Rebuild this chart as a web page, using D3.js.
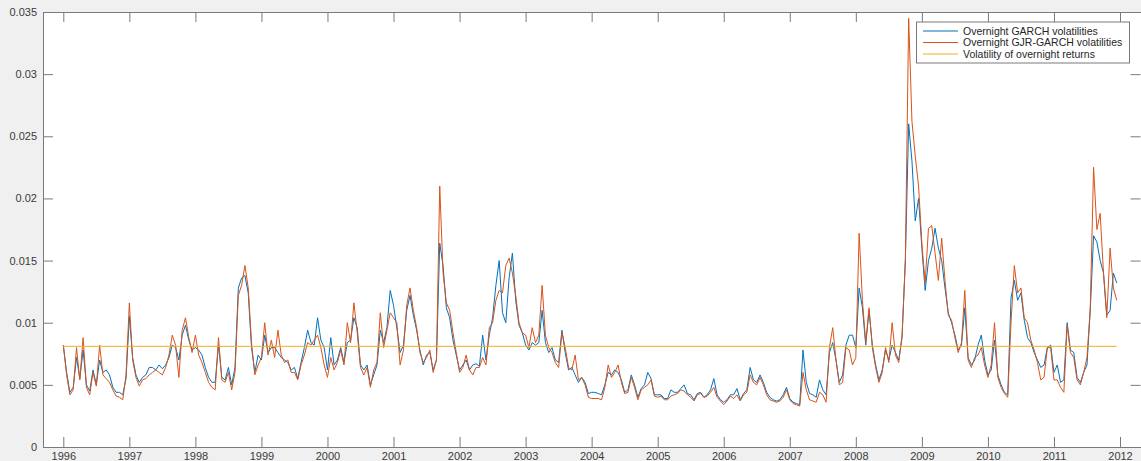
<!DOCTYPE html>
<html>
<head>
<meta charset="utf-8">
<script src="https://cdn.jsdelivr.net/npm/d3@7"></script>
<style>
  body { margin: 0; background: #f0f0f0; }
  svg { display: block; font-family: "Liberation Sans", Arial, sans-serif; }
</style>
</head>
<body>
<script>
// values are in units of 1e-4, sampled every 0.05 year from 1996.0
const unit = 1e-4
const startYear = 1996
const step = 0.05

const garch = [
  82, 60, 44, 48, 72, 55, 78, 50, 45, 62,
  50, 70, 60, 62, 58, 48, 44, 44, 42, 55,
  105, 72, 58, 52, 56, 58, 64, 64, 62, 66,
  63, 66, 72, 82, 80, 70, 90, 98, 86, 78,
  80, 78, 74, 64, 56, 52, 52, 82, 56, 54,
  64, 50, 64, 128, 136, 138, 124, 80, 60, 74,
  70, 90, 76, 80, 80, 76, 72, 70, 68, 62,
  64, 55, 68, 80, 94, 84, 82, 104, 86, 80,
  62, 88, 66, 70, 80, 68, 84, 86, 104, 96,
  66, 62, 66, 50, 58, 66, 94, 84, 96, 126,
  114, 96, 76, 82, 110, 122, 106, 94, 78, 66,
  74, 76, 62, 70, 164, 146, 112, 104, 86, 74,
  62, 66, 70, 62, 66, 67, 65, 90, 70, 90,
  104, 130, 150, 108, 100, 136, 156, 118, 98, 92,
  82, 78, 84, 82, 84, 110, 84, 76, 80, 70,
  68, 94, 76, 62, 64, 58, 52, 56, 52, 43,
  44, 44, 43, 42, 50, 60, 58, 62, 60, 54,
  44, 46, 58, 50, 40, 47, 50, 60, 55, 42,
  42, 42, 39, 39, 46, 44, 44, 47, 50, 43,
  42, 38, 43, 44, 40, 42, 46, 55, 42, 38,
  36, 38, 42, 42, 47, 38, 43, 46, 64, 54,
  52, 58, 52, 44, 40, 38, 37, 38, 42, 48,
  39, 36, 35, 34, 78, 52, 43, 42, 40, 54,
  46, 42, 76, 84, 70, 52, 58, 82, 90, 90,
  80, 128, 112, 82, 110, 82, 66, 54, 62, 78,
  70, 82, 76, 70, 88, 150, 260, 230, 182, 200,
  160, 126, 150, 160, 176, 160, 150, 128, 108, 100,
  90, 78, 82, 112, 72, 66, 70, 82, 90, 70,
  58, 62, 86, 58, 50, 44, 42, 120, 134, 118,
  124, 102, 88, 84, 76, 70, 64, 66, 80, 82,
  60, 66, 52, 54, 100, 78, 76, 56, 52, 60,
  66, 110, 170, 165, 150, 140, 106, 110, 140, 132
]

const gjr = [
  82, 58, 42, 46, 80, 54, 88, 48, 42, 60,
  49, 82, 58, 55, 52, 46, 41, 40, 38, 58,
  116, 70, 56, 49, 54, 55, 58, 60, 62, 60,
  58, 64, 74, 90, 82, 56, 94, 104, 88, 76,
  90, 74, 68, 60, 52, 48, 46, 88, 54, 52,
  60, 46, 60, 122, 130, 146, 128, 84, 58, 66,
  72, 100, 74, 86, 72, 94, 74, 68, 70, 60,
  60, 54, 66, 74, 84, 82, 86, 90, 80, 66,
  56, 72, 62, 68, 78, 66, 100, 84, 116, 92,
  64, 58, 64, 48, 62, 68, 108, 80, 94, 108,
  104, 100, 66, 78, 114, 128, 110, 96, 76, 68,
  72, 78, 60, 70, 210, 140, 116, 110, 92, 76,
  60, 64, 74, 62, 58, 64, 64, 72, 66, 96,
  100, 118, 126, 124, 146, 152, 140, 122, 100, 92,
  90, 80, 96, 84, 90, 130, 90, 80, 76, 68,
  64, 92, 80, 64, 62, 74, 54, 56, 50, 40,
  39, 39, 39, 38, 48, 66, 56, 60, 66, 52,
  43, 44, 56, 48, 38, 46, 48, 50, 54, 41,
  40, 41, 38, 38, 41, 42, 43, 46, 45, 42,
  40, 37, 42, 43, 40, 41, 44, 48, 40, 37,
  34, 37, 41, 39, 42, 37, 42, 44, 58, 52,
  50, 56, 50, 42, 38, 37, 36, 37, 40, 46,
  38, 35, 34, 33, 60, 46, 38, 37, 36, 44,
  42, 36, 80, 96, 70, 50, 52, 80, 78, 66,
  72, 172, 118, 84, 112, 80, 64, 52, 60, 80,
  68, 100, 74, 68, 90, 150, 345, 262, 234, 210,
  164, 132, 176, 178, 156, 134, 168, 134, 106, 102,
  88, 76, 84, 126, 70, 64, 72, 74, 80, 66,
  56, 66, 100, 56, 48, 43, 40, 100, 146, 124,
  128, 104, 100, 86, 78, 68, 54, 56, 80, 80,
  54, 54, 48, 44, 98, 76, 72, 54, 50, 60,
  72, 112, 225, 175, 188, 140, 104, 160, 128, 118
]

const overnightVol = 81
const years = d3.range(1996, 2013)
const yTicks = [0, 0.005, 0.01, 0.015, 0.02, 0.025, 0.03, 0.035]
const seriesNames = ["Overnight GARCH volatilities", "Overnight GJR-GARCH volatilities", "Volatility of overnight returns"]
const colors = ["#0072bd", "#d95319", "#edb120"]

const width = 1141, height = 461
const box = {left: 43, right: 1141, top: 12, bottom: 447}

const svg = d3.select("body").append("svg")
    .attr("width", width)
    .attr("height", height)

svg.append("rect")
    .attr("x", box.left).attr("y", box.top)
    .attr("width", box.right - box.left).attr("height", box.bottom - box.top)
    .attr("fill", "#fff")

const x = d3.scaleLinear().domain([1996, 2012]).range([63.3, 1120])
const y = d3.scaleLinear().domain([0, 0.035]).range([box.bottom, box.top])

const toPoints = arr => arr.map((v, i) => ({t: startYear + i * step, v: v * unit}))
const lastT = startYear + (garch.length - 1) * step

const line = d3.line().x(d => x(d.t)).y(d => y(d.v))

const plot = svg.append("g")
plot.append("path").datum(toPoints(garch))
    .attr("d", line).attr("fill", "none").attr("stroke", colors[0]).attr("stroke-width", 1)
plot.append("path").datum(toPoints(gjr))
    .attr("d", line).attr("fill", "none").attr("stroke", colors[1]).attr("stroke-width", 1)
plot.append("path").datum([{t: startYear, v: overnightVol * unit}, {t: lastT, v: overnightVol * unit}])
    .attr("d", line).attr("fill", "none").attr("stroke", colors[2]).attr("stroke-width", 1)

const axisColor = "#7a7a7a"
const textColor = "#3a3a3a"

// bottom axis with labels
const xb = svg.append("g").attr("transform", `translate(0,${box.bottom})`)
    .call(d3.axisBottom(x).tickValues(years).tickFormat(d3.format("d")).tickSizeInner(-10).tickSizeOuter(0))
// top axis ticks only
const xt = svg.append("g").attr("transform", `translate(0,${box.top})`)
    .call(d3.axisTop(x).tickValues(years).tickFormat("").tickSizeInner(-10).tickSizeOuter(0))
// left axis with labels
const yl = svg.append("g").attr("transform", `translate(${box.left},0)`)
    .call(d3.axisLeft(y).tickValues(yTicks).tickFormat(d3.format("~g")).tickSizeInner(-10).tickSizeOuter(0))
// right axis ticks only
const yr = svg.append("g").attr("transform", `translate(${box.right - 0.5},0)`)
    .call(d3.axisRight(y).tickValues(yTicks).tickFormat("").tickSizeInner(-10).tickSizeOuter(0))

;[xb, xt, yl, yr].forEach(g => {
    g.select(".domain").remove()
    g.selectAll(".tick line").attr("stroke", axisColor)
    g.selectAll("text").attr("fill", textColor).style("font-size", "11px")
})
xb.selectAll("text").attr("y", 0).attr("dy", 0).attr("transform", "translate(0,13)")
yl.selectAll("text").attr("x", -6)

svg.append("rect")
    .attr("x", box.left + 0.5).attr("y", box.top + 0.5)
    .attr("width", box.right - box.left).attr("height", box.bottom - box.top)
    .attr("fill", "none").attr("stroke", axisColor)

// legend
const legend = svg.append("g").attr("transform", "translate(916,21.5)")
legend.append("rect")
    .attr("x", 0.5).attr("y", 0.5).attr("width", 213).attr("height", 41)
    .attr("fill", "#fff").attr("stroke", axisColor)
const rows = legend.selectAll("g.row").data(seriesNames).enter().append("g")
    .attr("class", "row")
    .attr("transform", (d, i) => `translate(0,${9.5 + i * 11.5})`)
rows.append("line")
    .attr("x1", 7).attr("x2", 42).attr("y1", 0).attr("y2", 0)
    .attr("stroke", (d, i) => colors[i]).attr("stroke-width", 1)
rows.append("text")
    .attr("x", 47).attr("y", 0).attr("dy", "0.35em")
    .attr("fill", "#262626").style("font-size", "10.5px")
    .text(d => d)
</script>
</body>
</html>
